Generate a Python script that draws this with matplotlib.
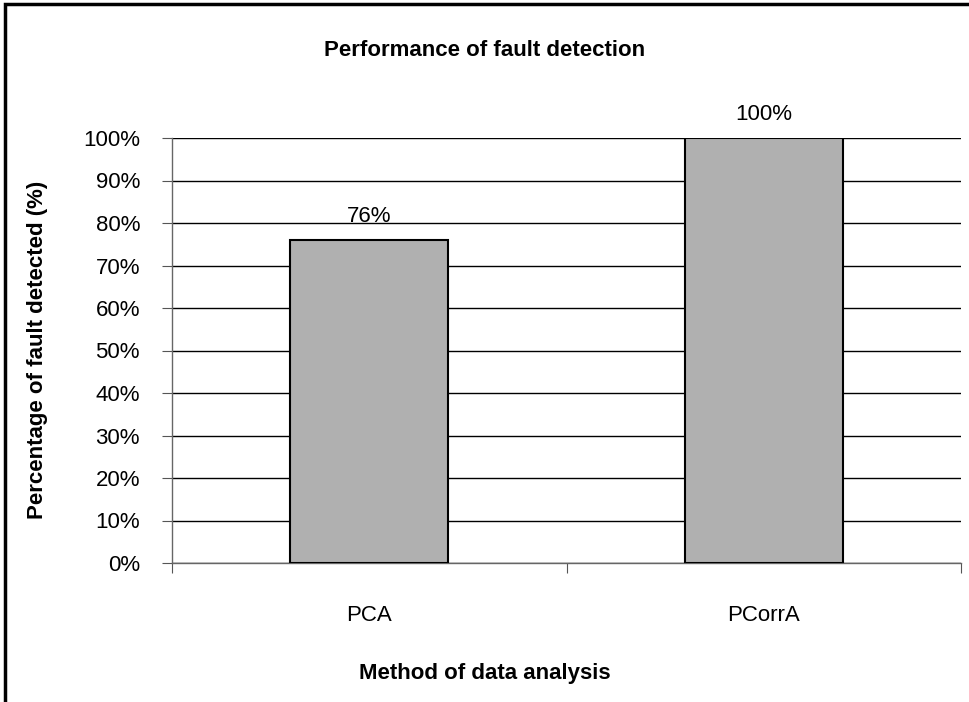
import numpy as np
import matplotlib.pyplot as plt
from matplotlib.patches import Rectangle
from matplotlib.ticker import PercentFormatter

plt.rcParams['font.family'] = ['Liberation Sans', 'DejaVu Sans']

methods = ['PCA', 'PCorrA']
detected = [76, 100]

W, H = 969, 702
FS = 16
fig = plt.figure(figsize=(W / 100, H / 100), dpi=100)
ax = fig.add_axes([172 / W, 1 - 563 / H, (961 - 172) / W, (563 - 138) / H])

x = np.arange(len(methods))
ax.bar(x, detected, width=0.4, color='#b0b0b0', edgecolor='black', linewidth=1.5, zorder=3)
for xi, v in zip(x, detected):
    ax.annotate('%d%%' % v, (xi, v), xytext=(0, 13), textcoords='offset points',
                ha='center', va='baseline', fontsize=FS)

ax.set_xlim(-0.5, 1.5)
ax.set_ylim(0, 100)
ax.set_yticks(np.arange(0, 101, 10))
ax.yaxis.set_major_formatter(PercentFormatter(decimals=0))
ax.set_xticks([-0.5, 0.5, 1.5])
ax.set_xticklabels([])
ax.set_xticks(x, minor=True)
ax.set_xticklabels(methods, minor=True)
ax.tick_params(axis='x', which='minor', length=0, pad=30, labelsize=FS)
ax.tick_params(axis='x', which='major', length=7, color='#555555', direction='out')
ax.tick_params(axis='y', length=7, color='#555555', labelsize=FS, pad=16)
ax.grid(axis='y', color='black', linewidth=1, zorder=0)

for s in ['top', 'right']:
    ax.spines[s].set_visible(False)
for s in ['left', 'bottom']:
    ax.spines[s].set_color('#666666')
    ax.spines[s].set_linewidth(1)

fig.text(485 / W, 1 - 51 / H, 'Performance of fault detection', ha='center', va='center',
         fontsize=FS, fontweight='bold')
fig.text(485 / W, 1 - 673 / H, 'Method of data analysis', ha='center', va='center',
         fontsize=FS, fontweight='bold')
fig.text(38 / W, 1 - 350 / H, 'Percentage of fault detected (%)', ha='center', va='center',
         rotation=90, fontsize=FS, fontweight='bold')

fig.patches.append(Rectangle((5 / W, -0.05), 1.1, 1.05 - 4 / H, transform=fig.transFigure,
                             fill=False, edgecolor='black', linewidth=2.5))

fig.savefig('out.png', dpi=100)
